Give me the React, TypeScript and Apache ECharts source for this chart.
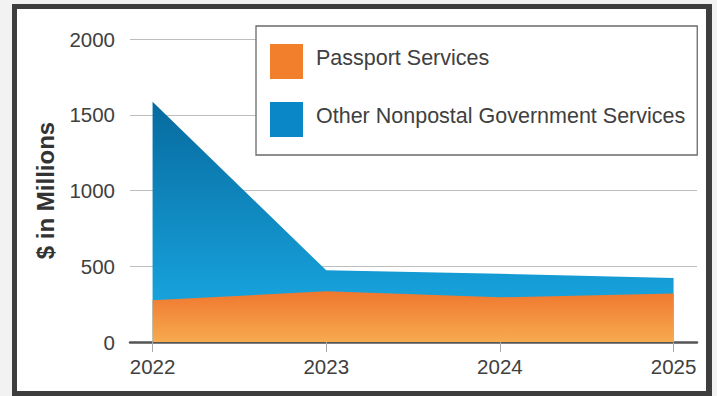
import React, { useEffect, useRef } from "react";
import * as echarts from "echarts";

const years = [2022, 2023, 2024, 2025];
const passportServices = [275, 335, 295, 320];
const otherNonpostal = [1310, 138, 156, 102];
const yTicks = [0, 500, 1000, 1500, 2000];
const seriesNames = ["Passport Services", "Other Nonpostal Government Services"];
const yAxisTitle = "$ in Millions";

const FONT = "'Liberation Sans', Arial, Helvetica, sans-serif";

export default function App() {
  const ref = useRef<HTMLDivElement>(null);
  useEffect(() => {
    if (!ref.current) return;
    const chart = echarts.init(ref.current, null, { renderer: "svg" });
    // stacked totals (blue area sits on top of the passport area)
    const stackedTotals = years.map((_, i) => passportServices[i] + otherNonpostal[i]);
    const option = {
      animation: false,
      backgroundColor: "transparent",
      textStyle: { fontFamily: FONT },
      grid: { left: 130, right: 20, top: 39, bottom: 54 },
      legend: {
        orient: "vertical",
        left: 256,
        top: 26,
        padding: [18, 12, 18, 14],
        itemWidth: 33,
        itemHeight: 35,
        itemGap: 23,
        icon: "rect",
        backgroundColor: "#ffffff",
        borderColor: "#6a6a6a",
        borderWidth: 1.3,
        data: seriesNames,
        formatter: (name: string) => "{t|" + name + "}",
        textStyle: {
          fontSize: 21.5,
          color: "#404040",
          fontFamily: FONT,
          rich: {
            t: {
              fontSize: 21.5,
              color: "#404040",
              fontFamily: FONT,
              padding: [0, 0, 7, 8],
            },
          },
        },
      },
      xAxis: {
        type: "value",
        min: 2021.87,
        max: 2025.135,
        splitLine: { show: false },
        axisLine: { show: true, lineStyle: { color: "#555555", width: 2.5 } },
        axisTick: {
          show: true,
          customValues: years,
          length: 10,
          lineStyle: { color: "#a8a8a8", width: 1 },
        },
        axisLabel: {
          customValues: years,
          formatter: (v: number) => String(Math.round(v)),
          fontSize: 20.5,
          color: "#404040",
          margin: 14,
          fontFamily: FONT,
        },
      },
      yAxis: {
        type: "value",
        min: yTicks[0],
        max: yTicks[yTicks.length - 1],
        interval: 500,
        name: yAxisTitle,
        nameLocation: "middle",
        nameGap: 73,
        nameTextStyle: {
          fontSize: 24,
          fontWeight: "bold",
          color: "#333333",
          fontFamily: FONT,
        },
        axisLine: { show: false },
        axisTick: { show: false },
        splitLine: { show: true, lineStyle: { color: "#bdbdbd", width: 1.2 } },
        axisLabel: {
          formatter: (v: number) => String(v),
          fontSize: 20.5,
          color: "#404040",
          margin: 15,
          fontFamily: FONT,
        },
      },
      series: [
        {
          name: seriesNames[1],
          type: "line",
          z: 2,
          symbol: "none",
          lineStyle: { width: 0 },
          itemStyle: { color: "#0a87c6" },
          areaStyle: {
            opacity: 1,
            origin: "start",
            color: new echarts.graphic.LinearGradient(0, 0, 0, 1, [
              { offset: 0, color: "#076a9e" },
              { offset: 0.83, color: "#17a2dc" },
              { offset: 1, color: "#1aa8e0" },
            ]),
          },
          data: years.map((y, i) => [y, stackedTotals[i]]),
        },
        {
          name: seriesNames[0],
          type: "line",
          z: 3,
          symbol: "none",
          lineStyle: { width: 0 },
          itemStyle: { color: "#f27f2c" },
          areaStyle: {
            opacity: 1,
            origin: "start",
            color: new echarts.graphic.LinearGradient(0, 0, 0, 1, [
              { offset: 0, color: "#ef772e" },
              { offset: 1, color: "#f7aa50" },
            ]),
          },
          data: years.map((y, i) => [y, passportServices[i]]),
        },
      ],
    };
    chart.setOption(option as any);
    return () => chart.dispose();
  }, []);

  return (
    <div
      style={{
        position: "fixed",
        left: 0,
        top: 0,
        width: 717,
        height: 396,
        background: "#f2f2f2",
        overflow: "hidden",
      }}
    >
      <div
        style={{
          position: "absolute",
          left: 12,
          top: 4,
          width: 700,
          height: 392,
          boxSizing: "border-box",
          borderStyle: "solid",
          borderColor: "#3d3d3d",
          borderWidth: "5px 6px 5px 5px",
          background: "#ffffff",
        }}
      />
      <div
        ref={ref}
        style={{ position: "absolute", left: 0, top: 0, width: 717, height: 396 }}
      />
    </div>
  );
}
